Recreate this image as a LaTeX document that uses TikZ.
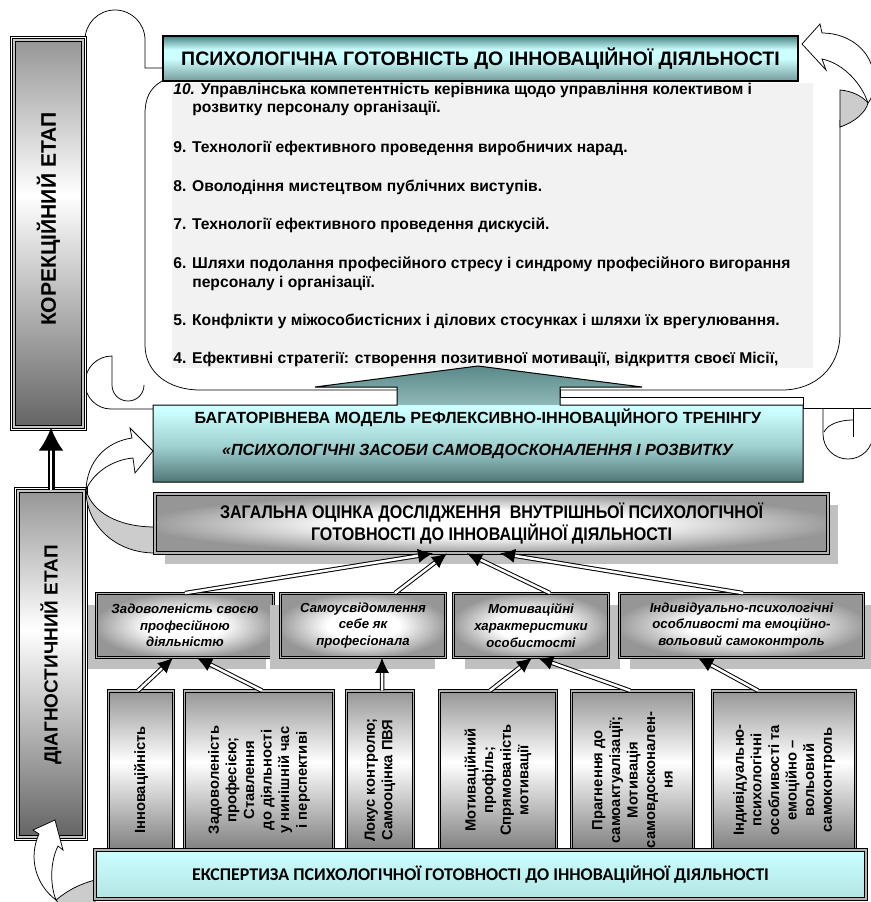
\documentclass[tikz,border=0pt]{standalone}
\usepackage{fontspec}
\setmainfont{Liberation Sans}
\newfontfamily\narrowfont{Liberation Sans}[FakeStretch=0.88]
\newfontfamily\calibfont{Carlito}
\usepackage{tikz}
\usetikzlibrary{arrows.meta,shadows}

\definecolor{cyanl}{RGB}{204,255,255}
\definecolor{hdtop}{RGB}{72,130,130}
\definecolor{hdbot}{RGB}{118,155,155}
\definecolor{bagtop}{RGB}{90,136,136}
\definecolor{bagneck}{RGB}{143,184,184}
\definecolor{bagmid}{RGB}{158,206,206}
\definecolor{bagbot}{RGB}{80,118,118}
\definecolor{metal}{RGB}{150,150,150}
\definecolor{metaldk}{RGB}{100,100,100}
\definecolor{shadowgr}{RGB}{192,192,192}
\definecolor{listbg}{RGB}{242,242,242}
\definecolor{ekspbot}{RGB}{178,228,228}

\pgfdeclareverticalshading{headshade}{100bp}{color(0bp)=(hdbot); color(25bp)=(hdbot); color(50bp)=(cyanl); color(60bp)=(cyanl); color(75bp)=(hdtop); color(100bp)=(hdtop)}
\pgfdeclareverticalshading{bagshade}{100bp}{color(0bp)=(bagbot); color(25bp)=(bagbot); color(40bp)=(bagmid); color(56bp)=(cyanl); color(58.2bp)=(cyanl); color(58.5bp)=(bagneck); color(75bp)=(bagtop); color(100bp)=(bagtop)}
\pgfdeclareverticalshading{metalrot}{100bp}{color(0bp)=(metaldk); color(25bp)=(metaldk); color(55bp)=(white); color(75bp)=(metal); color(100bp)=(metal)}
\pgfdeclareradialshading{metalrad}{\pgfpoint{0bp}{0bp}}{color(0bp)=(white); color(11bp)=(white); color(26bp)=(metal); color(50bp)=(metal)}

\begin{document}
\begin{tikzpicture}[x=0.2mm,y=-0.2mm,
	scrollline/.style={draw=black,line width=0.15mm},
	headbox/.style={shade,shading=headshade,draw=black,line width=0.45mm,inner sep=0pt,font=\bfseries\fontsize{11.1}{13}\selectfont},
	listitem/.style={anchor=base west,inner sep=0pt,align=left,font=\bfseries\fontsize{8.9}{10.8}\selectfont},
	bagline/.style={shade,shading=bagshade,draw=black,line width=0.2mm},
	bagtext/.style={align=center,inner sep=0pt,font=\bfseries\fontsize{9.2}{18.2}\selectfont},
	metalbox/.style={shade,shading=metalrad,draw=black,line width=0.15mm,double=gray!60,double distance=0.35mm,inner sep=0pt,align=center},
	upbox/.style={metalbox,font=\bfseries\itshape\fontsize{7.5}{9.5}\selectfont},
	boxshadow/.style={drop shadow={shadow xshift=#1,shadow yshift=-2.2mm,opacity=1,fill=shadowgr}},
	colbox/.style={shade,shading=metalrot,draw=black,line width=0.15mm,double=gray!60,double distance=0.35mm,inner sep=0pt,align=center,rotate=90,font=\bfseries\fontsize{8.4}{10}\selectfont},
	stagebox/.style={shade,shading=metalrot,draw=black,line width=0.25mm,double=gray!45,double distance=0.3mm,inner sep=0pt,rotate=90,
		preaction={draw=black,line width=1.44mm},preaction={draw=white,line width=1.15mm}},
	ekspbox/.style={top color=cyanl,bottom color=ekspbot,draw=black,line width=0.35mm,double=gray!60,double distance=0.25mm,inner sep=0pt,font=\calibfont\bfseries\fontsize{10.2}{12}\selectfont},
	swirl/.style={draw=black,line width=0.15mm,fill=white},
	swirlback/.style={draw=black,line width=0.15mm,fill=gray!40},
	link/.style={draw=black,line width=0.2mm,double=white,double distance=0.5mm,-{Latex[length=3mm,width=2.8mm]}},
	stagelink/.style={draw=black,line width=0.5mm,double=white,double distance=0.4mm,-{Latex[length=4.6mm,width=5mm]}}]

		\useasboundingbox (0,0) rectangle (870,902);

		%scroll
		\draw[scrollline] (163,68) -- (145,68) -- (145,40) .. controls (145,23.4) and (131.6,10) .. (115,10) .. controls (98.4,10) and (85,23.4) .. (85,40) -- (85,383) .. controls (85,397.4) and (96.6,409) .. (111,409) -- (155,409);
		\draw[scrollline] (85,383) .. controls (85,368) and (97,356) .. (112,356) -- (112,385) .. controls (112,394) and (119,401) .. (128,401) .. controls (137,401) and (144,394) .. (144,385);
		\draw[scrollline] (162,81) .. controls (150,88) and (145,98) .. (145,114) -- (145,345) .. controls (145,372) and (168,390) .. (200,390) -- (782,390) .. controls (815,390) and (840,368) .. (840,333) -- (840,120);
		\draw[scrollline] (560,390) -- (560,397) -- (803,397) -- (803,408) -- (875,408);
		\draw[scrollline] (823,408) -- (823,434) .. controls (823,448) and (834,459) .. (848,459) .. controls (862,459) and (873,448) .. (873,434) -- (873,408);
		\draw[scrollline] (853,408) -- (853,437);
		\draw[scrollline] (824,432) .. controls (828,424) and (840,420) .. (853,420);
		\fill[listbg] (172,83) rectangle (813,368);

		%training topics
		\node[listitem] (t10) at (173,113) {\textit{10.} Управлінська компетентність керівника щодо управління колективом і\\\hspace*{3.8mm}розвитку персоналу організації.};
		\node[listitem] (t9) at (173,153) {9. Технології ефективного проведення виробничих нарад.};
		\node[listitem] (t8) at (173,192) {8. Оволодіння мистецтвом публічних виступів.};
		\node[listitem] (t7) at (173,230) {7. Технології ефективного проведення дискусій.};
		\node[listitem] (t6) at (173,287) {6. Шляхи подолання професійного стресу і синдрому професійного вигорання\\\hspace*{3.8mm}персоналу і організації.};
		\node[listitem] (t5) at (173,325) {5. Конфлікти у міжособистісних і ділових стосунках і шляхи їх врегулювання.};
		\node[listitem] (t4) at (173,363) {4. Ефективні стратегії: створення позитивної мотивації, відкриття своєї Місії,};

		%readiness
		\node[headbox,minimum width=127mm,minimum height=9mm] (ready) at (480.5,58.5) {ПСИХОЛОГІЧНА ГОТОВНІСТЬ ДО ІННОВАЦІЙНОЇ ДІЯЛЬНОСТІ};
		\draw[swirl] (802,44) -- (820,24) -- (822,33) .. controls (850,33) and (874,52) .. (874,80) .. controls (874,92) and (871,100) .. (868,103) .. controls (862,85) and (845,64) .. (822,59) -- (826,70) -- cycle;
		\draw[swirlback] (868,103) .. controls (862,96) and (852,91) .. (840,90) -- (840,127) .. controls (855,122) and (866,112) .. (868,103) -- cycle;

		%training model
		\draw[bagline] (153,405) -- (397,405) -- (397,387) -- (315,387) -- (478,366) -- (642,387) -- (560,387) -- (560,405) -- (803,405) -- (803,482) -- (153,482) -- cycle;
		\node[bagtext] (model) at (478,434) {БАГАТОРІВНЕВА МОДЕЛЬ РЕФЛЕКСИВНО-ІННОВАЦІЙНОГО ТРЕНІНГУ\\\textit{«ПСИХОЛОГІЧНІ ЗАСОБИ САМОВДОСКОНАЛЕННЯ І РОЗВИТКУ}};

		%stages
		\node[stagebox,minimum width=77.4mm,minimum height=13.8mm,font=\bfseries\fontsize{12}{14}\selectfont] (korek) at (48.5,233.5) {\hspace*{5.8mm}КОРЕКЦІЙНИЙ ЕТАП};
		\node[stagebox,minimum width=69.2mm,minimum height=13.2mm,font=\bfseries\fontsize{10.8}{13}\selectfont] (diag) at (51,664) {\hspace*{3.6mm}ДІАГНОСТИЧНИЙ ЕТАП};
		\draw[stagelink] (diag.east) -- (diag.east |- korek.west);
		\draw[swirlback] (86,490) .. controls (86,525) and (115,553) .. (155,553) -- (155,527) .. controls (118,527) and (92,512) .. (86,490) -- cycle;
		\draw[swirl] (153,451) -- (130,428) -- (132,438) .. controls (105,442) and (87,462) .. (86,490) .. controls (92,475) and (110,460) .. (133,458) -- (135,473) -- cycle;

		%assessment
		\node[metalbox,boxshadow=2mm,minimum width=134.6mm,minimum height=11.8mm,font=\narrowfont\bfseries\fontsize{10.4}{12.5}\selectfont] (zag) at (491.5,523.5) {ЗАГАЛЬНА ОЦІНКА ДОСЛІДЖЕННЯ\ \ ВНУТРІШНЬОЇ ПСИХОЛОГІЧНОЇ\\ГОТОВНОСТІ ДО ІННОВАЦІЙНОЇ ДІЯЛЬНОСТІ};

		%criteria
		\node[upbox,boxshadow=-1.6mm,minimum width=35.4mm,minimum height=12.8mm] (l2a) at (185,625.5) {Задоволеність своєю\\професійною\\діяльністю};
		\node[upbox,boxshadow=-2.2mm,minimum width=33mm,minimum height=12.8mm] (l2b) at (363,625.5) {Самоусвідомлення\\себе як\\професіонала};
		\node[upbox,boxshadow=2.2mm,minimum width=31mm,minimum height=12.8mm] (l2c) at (531,625.5) {Мотиваційні\\характеристики\\особистості};
		\node[upbox,boxshadow=2mm,minimum width=48.8mm,minimum height=12.8mm] (l2d) at (741.5,625.5) {Індивідуально-психологічні\\особливості та емоційно-\\вольовий самоконтроль};

		%indicators
		\node[colbox,minimum width=35.6mm,minimum height=13mm] (l3a) at (141,780) {Інноваційність};
		\node[colbox,minimum width=35.6mm,minimum height=29.8mm] (l3b) at (259,780) {Задоволеність\\професією;\\Ставлення\\до діяльності\\у нинішній час\\і перспективі};
		\node[colbox,minimum width=35.6mm,minimum height=13.4mm] (l3c) at (380,780) {Локус контролю;\\Самооцінка ПВЯ};
		\node[colbox,minimum width=35.6mm,minimum height=23.4mm] (l3d) at (498,780) {Мотиваційний\\профіль;\\Спрямованість\\мотивації};
		\node[colbox,minimum width=35.6mm,minimum height=24.4mm] (l3e) at (632.5,780) {Прагнення до\\самоактуалізації;\\Мотивація\\самовдосконален-\\ня};
		\node[colbox,minimum width=35.6mm,minimum height=28.6mm] (l3f) at (784,780) {Індивідуально-\\психологічні\\особливості та\\емоційно –\\вольовий\\самоконтроль};

		%expertise
		\draw[swirlback] (56,900) .. controls (68,890) and (80,884) .. (95,880) -- (95,905) -- (60,905) -- cycle;
		\draw[swirl] (55,820) -- (33,830) -- (39,834) .. controls (28,858) and (36,885) .. (56,900) .. controls (50,885) and (50,862) .. (58,846) -- (63,850) -- cycle;
		\node[ekspbox,minimum width=154.2mm,minimum height=9.8mm] (eksp) at (480.5,874.5) {ЕКСПЕРТИЗА ПСИХОЛОГІЧНОЇ ГОТОВНОСТІ ДО ІННОВАЦІЙНОЇ ДІЯЛЬНОСТІ};

		%links
		\draw[link] ([xshift=-0.6mm]l3a.east) -- ([xshift=-2.4mm]l2a.south);
		\draw[link] ([xshift=0.6mm]l3b.east) -- ([xshift=2.4mm]l2a.south);
		\draw[link] ([xshift=0.4mm]l3c.east) -- ([xshift=3.8mm]l2b.south);
		\draw[link] ([xshift=-1.6mm]l3d.east) -- ([xshift=0.2mm]l2c.south);
		\draw[link] ([xshift=-0.5mm]l3e.east) -- ([xshift=1.4mm]l2c.south);
		\draw[link] ([xshift=-5.2mm]l3f.east) -- ([xshift=-8.7mm]l2d.south);
		\draw[link] (l2a.north) -- ([xshift=-11.7mm]zag.south);
		\draw[link] ([xshift=6.4mm]l2b.north) -- ([xshift=-8.9mm]zag.south);
		\draw[link] ([xshift=3.8mm]l2c.north) -- ([xshift=-4.9mm]zag.south);
		\draw[link] ([xshift=0.3mm]l2d.north) -- ([xshift=1.7mm]zag.south);
\end{tikzpicture}
\end{document}
